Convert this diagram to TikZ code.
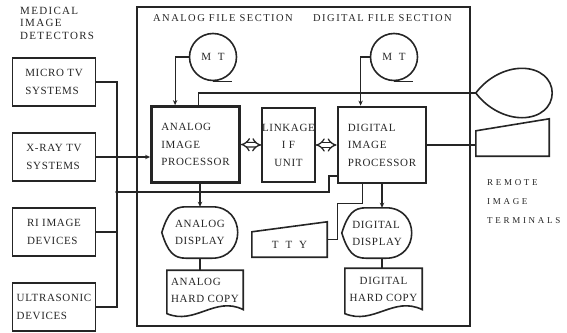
\documentclass[tikz,border=0pt]{standalone}
\usepackage{fontspec}
\setmainfont{Liberation Serif}[LetterSpace=6]
\usetikzlibrary{arrows.meta,positioning,calc}
\definecolor{ink}{HTML}{252525}
\tikzset{
  >={Stealth[length=5pt,width=4.4pt]},
  box/.style={draw=ink,line width=1.6pt,inner sep=2pt,align=left,font=\fontsize{11}{17.5}\selectfont,text=ink},
  detbox/.style={box,minimum width=83pt,minimum height=48.4pt},
  procbox/.style={box,line width=2.8pt,minimum width=88pt,minimum height=76pt},
  shp/.style={font=\fontsize{11}{17}\selectfont,text=ink,inner sep=1pt,align=left},
  lab/.style={font=\fontsize{11}{12.5}\selectfont\addfontfeatures{LetterSpace=12},text=ink,align=left,inner sep=0pt},
  slab/.style={lab,font=\fontsize{10.5}{12.5}\selectfont\addfontfeatures{LetterSpace=14}},
  rlab/.style={lab,font=\fontsize{9}{19}\selectfont\addfontfeatures{LetterSpace=30}},
  ln/.style={draw=ink,line width=1.2pt},
  arr/.style={ln,->},
  outl/.style={draw=ink,line width=1.6pt},
  dbl/.style={draw=ink,line width=1.3pt,double,double distance=3.2pt,Implies-Implies},
}
\begin{document}
\begin{tikzpicture}[x=1pt,y=-1pt,node distance=25pt]
\useasboundingbox (0,0) rectangle (567,332);
% detectors
\node[lab,anchor=north west] (dettitle) at (20,7) {MEDICAL\\IMAGE\\DETECTORS};
\node[detbox] (micro) at (54,82) {MICRO TV\\SYSTEMS};
\node[detbox,below=of micro] (xray) {X-RAY TV\\SYSTEMS};
\node[detbox,below=of xray] (ri) {RI IMAGE\\DEVICES};
\node[detbox,below=of ri] (ultra) {ULTRASONIC\\DEVICES};
% file sections
\node[draw=ink,line width=1.1pt,minimum width=333pt,minimum height=319pt] (filesec) at (303.5,166.5) {};
\node[slab,anchor=west] (asec) at (153,18) {ANALOG FILE SECTION};
\node[slab,anchor=west] (dsec) at (313,18) {DIGITAL FILE SECTION};
\node[circle,outl,shp,minimum size=47pt] (amt) at (213,57) {M~~T};
\node[circle,outl,shp,minimum size=47pt] (dmt) at (394,57) {M~~T};
\foreach \m in {amt,dmt} \draw[outl] (\m.south) -- ++(19,0);
\node[procbox] (aproc) at (195.5,144.5) {ANALOG\\IMAGE\\PROCESSOR};
\node[box,minimum width=53pt,minimum height=74pt,align=center,inner sep=0pt] (link) at (288.5,145) {LINKAGE\\I F\\UNIT};
\node[procbox] (dproc) at (382,145) {DIGITAL\\IMAGE\\PROCESSOR};
\node[shp,minimum width=76pt,minimum height=51pt] (adisp) at (200,232.5) {ANALOG\\DISPLAY};
\node[shp,minimum width=70pt,minimum height=50pt] (ddisp) at (377,233) {DIGITAL\\DISPLAY};
\node[shp,minimum width=76pt,minimum height=40pt,below=12pt of adisp,xshift=5pt] (acopy) {ANALOG\\HARD COPY};
\node[shp,minimum width=77pt,minimum height=42pt,below=10pt of ddisp,xshift=6.5pt,align=center] (dcopy) {DIGITAL\\HARD COPY};
\node[shp,minimum width=75pt,minimum height=25pt] (tty) at (289.5,244.5) {T~~T~~Y};
% remote terminals
\node[shp,minimum width=76pt,minimum height=49pt] (rdisp) at (514,93) {};
\node[shp,minimum width=73pt,minimum height=25pt] (rtty) at (512.5,143.5) {};
\node[rlab,anchor=north west] (rtlab) at (487,179) {REMOTE\\IMAGE\\TERMINALS};
% outlines
\foreach \n in {adisp,ddisp}
  \draw[outl] (\n.west) .. controls ($(\n.north west)+(6,6)$) and ($(\n.north west)+(12,0)$) .. ($(\n.north west)+(24,0)$)
    -- ($(\n.north east)+(-26,0)$) .. controls ($(\n.north east)+(8,0)$) and ($(\n.south east)+(8,0)$) .. ($(\n.south east)+(-26,0)$)
    -- ($(\n.south west)+(24,0)$) .. controls ($(\n.south west)+(12,0)$) and ($(\n.south west)+(6,-6)$) .. (\n.west) -- cycle;
\foreach \n in {acopy,dcopy}
  \draw[outl] ($(\n.south west)+(0,3)$) -- (\n.north west) -- (\n.north east) -- ($(\n.south east)+(0,-1)$)
    .. controls ($(\n.south)+(10,-15)$) and ($(\n.south)+(-10,15)$) .. ($(\n.south west)+(0,3)$) -- cycle;
\foreach \n/\h in {tty/10,rtty/12}
  \draw[outl] (\n.north west) -- ($(\n.north east)+(0,-\h)$) -- (\n.south east) -- (\n.south west) -- cycle;
\draw[outl] (rdisp.west) .. controls +(12,-16) and +(-16,0) .. ($(rdisp.north)+(8,0)$)
  .. controls +(18,0) and +(0,-14) .. (rdisp.east) .. controls +(0,14) and +(18,0) .. ($(rdisp.south)+(8,0)$)
  .. controls +(-16,0) and +(12,16) .. (rdisp.west) -- cycle;
% connectors
\coordinate (busx) at (117,0);
\coordinate (busjn) at (117,192);
\coordinate (buskink) at (329,176);
\draw[ln] (micro.east) -| (busx |- ultra.east) -- (ultra.east);
\draw[ln] (ri.east) -- (ri.east -| busx);
\draw[arr] (xray.east) -- (xray.east -| aproc.west);
\draw[ln] (busjn) -| (buskink) -- (buskink -| dproc.west);
\fill[ink] (busjn) circle (1.8pt) (xray.east -| busx) circle (1.8pt);
\draw[arr] (amt.west) -| ($(aproc.north west)+(25,0)$);
\draw[arr] (dmt.west) -| ($(dproc.north west)+(24,0)$);
\draw[ln] ($(aproc.north west)+(48,0)$) |- (rdisp.west);
\draw[dbl] (aproc.east) -- (link.west);
\draw[dbl] (link.east) -- (dproc.west);
\draw[ln] (dproc.east) -- (dproc.east -| rtty.west);
\draw[arr] (aproc.south -| adisp.north) -- (adisp.north);
\draw[ln] (adisp.south) -- (adisp.south |- acopy.north);
\draw[arr] (dproc.south) -- (dproc.south |- ddisp.north);
\draw[ln] (dproc.south |- ddisp.south) -- (dproc.south |- dcopy.north);
\draw[ln] ($(dproc.south west)+(26,0)$) -- ++(0,19) -| ($(tty.east)+(10,-5)$) -- ($(tty.east)+(0,-5)$);
\end{tikzpicture}
\end{document}
